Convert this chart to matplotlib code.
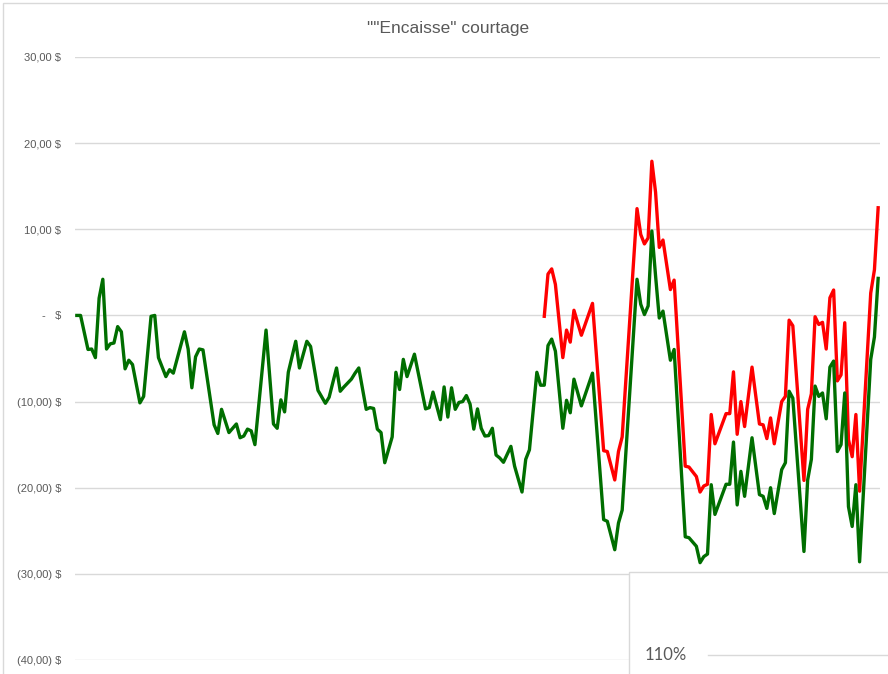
import matplotlib.pyplot as plt
from matplotlib.patches import Rectangle

# semaines (index) et valeurs
green_weeks = [0, 1, 3, 4, 5, 6, 7, 8, 9, 10, 11, 12, 13, 14, 15, 17, 18, 20, 21, 22,
               24, 25, 26, 27, 29, 30, 31, 32, 33, 34, 37, 38, 39, 41, 43, 44, 45, 46, 47, 48,
               51, 53, 54, 55, 56, 57, 59, 60, 62, 63, 65, 67, 68, 70, 71, 72, 74, 75, 76, 78,
               79, 80, 81, 82, 83, 84, 85, 86, 87, 88, 89, 91, 94, 95, 96, 98, 99, 100, 101, 102,
               103, 104, 105, 106, 107, 108, 109, 110, 111, 112, 113, 114, 115, 117, 118, 120, 121, 122, 124, 125,
               126, 127, 128, 129, 131, 132, 133, 134, 136, 139, 142, 143, 145, 146, 147, 151, 152, 153, 154, 155,
               156, 157, 158, 160, 161, 164, 165, 167, 168, 169, 170, 171, 172, 175, 176, 177, 178, 179, 180, 182,
               184, 185, 186, 187, 188, 190, 191, 192, 193, 196, 197, 198, 199, 200, 201, 202, 203, 204, 205, 206,
               207, 208, 209, 210, 211, 214, 215, 216]
green_vals = [0.0, 0.0, -3.95, -3.9, -4.9, 2.0, 4.2, -3.9, -3.3, -3.2, -1.3, -1.9, -6.2, -5.2, -5.7, -10.15, -9.4, -0.1, 0.0, -4.9,
              -7.1, -6.3, -6.7, -5.1, -1.9, -3.9, -8.4, -4.8, -3.9, -4.0, -12.7, -13.7, -10.9, -13.6, -12.6, -14.2, -14.0, -13.2, -13.4, -15.0,
              -1.7, -12.6, -13.1, -9.8, -11.2, -6.6, -3.0, -6.1, -3.0, -3.6, -8.7, -10.2, -9.5, -6.1, -8.8, -8.3, -7.4, -6.7, -6.1, -10.9,
              -10.7, -10.8, -13.2, -13.6, -17.1, -15.6, -14.1, -6.6, -8.6, -5.1, -7.1, -4.5, -10.85, -10.7, -8.9, -12.1, -8.3, -11.8, -8.4, -10.9,
              -10.1, -10.0, -9.3, -10.3, -13.2, -10.85, -13.1, -14.0, -13.95, -13.1, -16.2, -16.55, -17.05, -15.2, -17.5, -20.5, -16.7, -15.6, -6.6, -8.1,
              -8.1, -3.5, -2.75, -4.15, -13.1, -9.85, -11.3, -7.4, -10.5, -6.7, -23.7, -23.9, -27.2, -24.1, -22.6, 4.2, 1.3, 0.1, 1.1, 9.8,
              4.6, -0.3, 0.5, -5.2, -3.95, -25.7, -25.8, -26.8, -28.7, -28.0, -27.7, -19.65, -23.1, -19.6, -19.6, -14.7, -22.0, -18.1, -21.0, -14.2,
              -20.8, -21.0, -22.4, -20.0, -23.0, -17.9, -17.1, -8.8, -9.6, -27.4, -19.1, -16.7, -8.2, -9.4, -9.0, -12.0, -6.0, -5.3, -15.8, -15.0,
              -9.0, -22.2, -24.5, -19.65, -28.6, -5.1, -2.5, 4.3]

red_weeks = [126, 127, 128, 129, 131, 132, 133, 134, 136, 139, 142, 143, 145, 146, 147, 151, 152, 153, 154, 155,
             156, 157, 158, 160, 161, 164, 165, 167, 168, 169, 170, 171, 172, 175, 176, 177, 178, 179, 180, 182,
             184, 185, 186, 187, 188, 190, 191, 192, 193, 196, 197, 198, 199, 200, 201, 202, 203, 204, 205, 206,
             207, 208, 209, 210, 211, 214, 215, 216]
red_vals = [-0.1, 4.8, 5.4, 3.6, -4.9, -1.7, -3.1, 0.6, -2.3, 1.4, -15.7, -15.8, -19.1, -15.8, -14.1, 12.4, 9.4, 8.3, 9.0, 17.9,
            14.3, 7.9, 8.75, 3.0, 4.1, -17.5, -17.6, -18.7, -20.5, -19.8, -19.6, -11.5, -14.9, -11.4, -11.4, -6.55, -13.8, -10.0, -12.9, -6.0,
            -12.6, -12.7, -14.3, -11.9, -14.9, -10.0, -9.4, -0.55, -1.2, -19.15, -10.9, -9.1, -0.15, -1.05, -0.8, -3.9, 2.05, 2.95, -7.6, -6.9,
            -0.85, -14.4, -16.4, -11.5, -20.4, 2.6, 5.3, 12.5]

y_ticks = [30, 20, 10, 0, -10, -20, -30, -40]
y_labels = ["30,00 $", "20,00 $", "10,00 $", "-   $", "(10,00) $", "(20,00) $", "(30,00) $", "(40,00) $"]

plt.rcParams['font.family'] = ['Liberation Sans Narrow', 'Liberation Sans', 'DejaVu Sans']
grey = '#595959'

fig = plt.figure(figsize=(8.88, 6.74), dpi=100)
fig.patches.append(Rectangle((3 / 888, -0.1), 1.2, 1 - 3 / 674 + 0.1, transform=fig.transFigure,
                             fill=False, edgecolor='#d9d9d9', linewidth=1))

ax = fig.add_axes([75 / 888, 1 - 660 / 674, 805 / 888, (660 - 57) / 674])
ax.plot(green_weeks, green_vals, color='#006e00', linewidth=2.4, solid_joinstyle='round', zorder=3)
ax.plot(red_weeks, red_vals, color='#ff0000', linewidth=2.4, solid_joinstyle='round', zorder=2)

ax.set_xlim(-0.5, 216.5)
ax.set_ylim(-40, 30)
ax.set_yticks(y_ticks)
ax.set_yticklabels(y_labels)
ax.set_xticks([])
ax.tick_params(axis='y', length=0, pad=10, labelsize=8, labelcolor=grey)
ax.grid(axis='y', color='#d9d9d9', linewidth=1)
ax.set_axisbelow(True)
for s in ax.spines.values():
    s.set_visible(False)

fig.text(448 / 888, 1 - 28 / 674, '""Encaisse" courtage', ha='center', va='center',
         fontsize=12.5, color=grey)

# autre graphique qui recouvre le coin en bas a droite
fig.patches.append(Rectangle((629 / 888, -0.1), 0.4, 0.1 + 1 - 572 / 674, transform=fig.transFigure,
                             facecolor='white', edgecolor='#d9d9d9', linewidth=1, zorder=5))
fig.text(645 / 888, 1 - 655 / 674, '110%', ha='left', va='center', fontsize=12,
         color=grey, family=['Lato', 'DejaVu Sans'], zorder=6)
fig.add_artist(plt.Line2D([708 / 888, 1.0], [1 - 655 / 674] * 2, transform=fig.transFigure,
                          color='#d9d9d9', linewidth=1, zorder=6))

fig.savefig('out.png', dpi=100)
